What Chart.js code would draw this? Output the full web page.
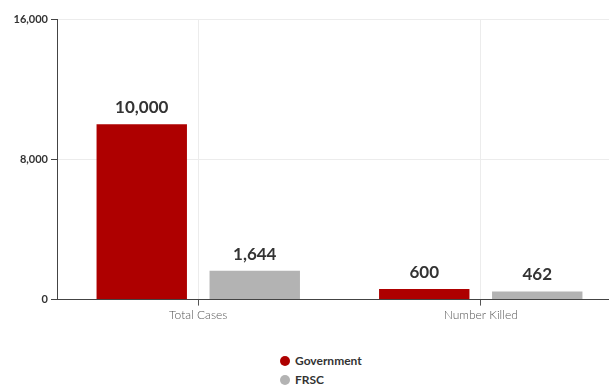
<!DOCTYPE html>
<html>
<head>
<meta charset="utf-8">
<script src="https://cdn.jsdelivr.net/npm/chart.js@4"></script>
<style>
  html, body { margin: 0; padding: 0; background: #fff; overflow: hidden; }
  #wrap { position: relative; width: 622px; height: 324px; }
  #legend { position: absolute; left: 280px; top: 351px; font-family: Lato, sans-serif; font-size: 12px; font-weight: 700; color: #333; }
  #legend div { display: flex; align-items: center; height: 19px; }
  #legend span { display: inline-block; width: 10px; height: 10px; border-radius: 50%; margin-right: 5px; }
</style>
</head>
<body>
<div id="wrap"><canvas id="chart"></canvas></div>
<div id="legend"></div>
<script>
// Casos e mortes: Governo x FRSC
const categories = ['Total Cases', 'Number Killed'];
const governmentValues = [10000, 600];
const frscValues = [1644, 462];
const yTicks = [0, 8000, 16000];

const COLORS = { government: '#ae0000', frsc: '#b3b3b3' };

// escreve o valor acima de cada barra
const valueLabels = {
  id: 'valueLabels',
  afterDatasetsDraw(chart) {
    const ctx = chart.ctx;
    ctx.save();
    ctx.font = 'bold 17px Lato, sans-serif';
    ctx.fillStyle = '#333';
    ctx.textAlign = 'center';
    ctx.textBaseline = 'bottom';
    chart.data.datasets.forEach((ds, i) => {
      chart.getDatasetMeta(i).data.forEach((bar, j) => {
        ctx.fillText(ds.data[j].toLocaleString('en-US'), bar.x, bar.y - 8);
      });
    });
    ctx.restore();
  }
};

const chart = new Chart(document.getElementById('chart'), {
  type: 'bar',
  data: {
    labels: categories,
    datasets: [
      { label: 'Government', data: governmentValues, backgroundColor: COLORS.government },
      { label: 'FRSC', data: frscValues, backgroundColor: COLORS.frsc }
    ]
  },
  options: {
    responsive: true,
    maintainAspectRatio: false,
    animation: false,
    layout: { padding: { top: 19, left: 0, right: 0 } },
    datasets: { bar: { barPercentage: 0.8, categoryPercentage: 0.8 } },
    plugins: {
      legend: { display: false },
      tooltip: { enabled: false }
    },
    scales: {
      x: {
        grid: { color: '#ececec', drawTicks: true, tickLength: 6, tickColor: '#555', offset: false },
        border: { color: '#444', width: 1 },
        ticks: { color: '#555', font: { family: 'Lato', size: 12, weight: 300 }, padding: 2 }
      },
      y: {
        min: 0,
        max: 16000,
        afterFit(scale) { scale.width = 57; },
        afterBuildTicks(scale) { scale.ticks = yTicks.map(v => ({ value: v })); },
        grid: { color: '#ececec', tickLength: 6, tickColor: '#444' },
        border: { color: '#444', width: 1 },
        ticks: {
          color: '#333',
          font: { family: 'Lato', size: 11, weight: 'bold' },
          padding: 3,
          callback: v => v.toLocaleString('en-US')
        }
      }
    }
  },
  plugins: [valueLabels]
});

// legenda vertical abaixo do gráfico
const legend = document.getElementById('legend');
chart.data.datasets.forEach(ds => {
  const row = document.createElement('div');
  row.innerHTML = '<span style="background:' + ds.backgroundColor + '"></span>' + ds.label;
  legend.appendChild(row);
});
</script>
</body>
</html>
